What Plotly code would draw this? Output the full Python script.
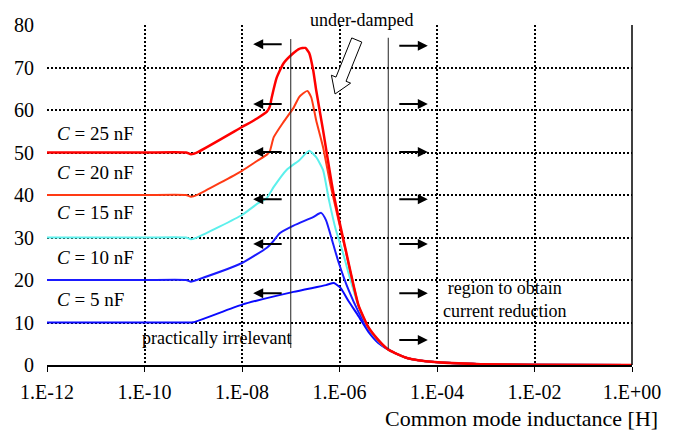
import math
import plotly.graph_objects as go

# ---------------- data ----------------
x_ticks = [1e-12, 1e-10, 1e-8, 1e-6, 1e-4, 1e-2, 1e0]
x_ticktext = ["1.E-12", "1.E-10", "1.E-08", "1.E-06", "1.E-04", "1.E-02", "1.E+00"]
y_ticks = [0, 10, 20, 30, 40, 50, 60, 70, 80]

tail_L = [1.38e-5, 2.52e-5, 8.9e-5, 7.9e-4, 9.3e-3, 1.0]
tail_v = [2.8, 1.6, 0.7, 0.2, 0.05, 0.02]

L_25 = [1e-12, 1e-10, 7.1e-10, 9.0e-10, 1.24e-9, 1.0e-8, 2.03e-8, 3.24e-8, 3.72e-8, 4.08e-8,
        5.15e-8, 7.13e-8, 1.14e-7, 1.50e-7, 1.99e-7, 2.39e-7, 2.88e-7, 3.32e-7,
        4.59e-7, 7.31e-7, 1.34e-6, 2.45e-6, 3.92e-6, 6.24e-6, 9.5e-6] + tail_L
v_25 = [50, 50, 50, 49.6, 50.1, 56.0, 58.0, 59.6, 60.8, 63.0,
        67.6, 71.0, 73.4, 74.4, 74.6, 73.4, 69.4, 64.7,
        55.3, 41.2, 27.1, 14.1, 8.9, 5.9, 3.8] + tail_v

L_20 = [1e-12, 1e-10, 7.1e-10, 9.0e-10, 1.24e-9, 1.0e-8, 2.03e-8, 3.24e-8, 3.72e-8, 4.48e-8,
        7.13e-8, 1.14e-7, 1.50e-7, 2.18e-7, 2.63e-7, 3.32e-7, 4.59e-7, 6.67e-7,
        1.34e-6, 2.45e-6, 3.92e-6, 6.24e-6, 9.5e-6] + tail_L
v_20 = [40, 40, 40, 39.6, 40.1, 45.7, 48.0, 49.5, 50.3, 53.6,
        57.2, 60.5, 63.1, 64.5, 63.0, 57.6, 51.3, 41.9,
        26.8, 14.0, 8.8, 5.8, 3.8] + tail_v

L_15 = [1e-12, 1e-10, 7.1e-10, 9.0e-10, 1.24e-9, 1.0e-8, 2.03e-8, 3.24e-8, 4.48e-8, 8.2e-8,
        1.50e-7, 2.39e-7, 3.32e-7, 4.59e-7, 6.08e-7, 8.41e-7, 1.17e-6, 1.54e-6,
        2.45e-6, 3.92e-6, 6.24e-6, 9.5e-6] + tail_L
v_15 = [30, 30, 30, 29.6, 30.1, 35.3, 37.9, 39.3, 41.9, 45.9,
        48.2, 50.4, 48.9, 45.9, 38.8, 31.8, 26.5, 21.5,
        13.8, 8.7, 5.7, 3.8] + tail_v

L_10 = [1e-12, 1e-10, 7.1e-10, 9.0e-10, 1.24e-9, 1.0e-8, 3.24e-8, 4.08e-8, 5.93e-8, 1.14e-7,
        2.88e-7, 4.19e-7, 5.28e-7, 7.31e-7, 9.68e-7, 1.54e-6, 2.45e-6, 3.92e-6,
        6.24e-6, 9.5e-6] + tail_L
v_10 = [20, 20, 20, 19.6, 20.1, 24.0, 27.6, 28.7, 31.0, 32.8,
        34.8, 35.8, 34.1, 28.7, 24.0, 17.6, 12.5, 8.3,
        5.4, 3.8] + tail_v

L_5 = [1e-12, 1e-10, 7.5e-10, 1.0e-9, 1.0e-8, 1.14e-7, 5.28e-7, 7.67e-7, 1.06e-6, 1.54e-6,
       2.45e-6, 3.92e-6, 6.24e-6, 9.5e-6] + tail_L
v_5 = [10, 10, 10, 10.05, 14.2, 17.2, 18.8, 19.3, 18.1, 15.0,
       11.5, 7.8, 5.2, 3.8] + tail_v

series = [
    ("C = 5 nF", L_5, v_5, "#0a0aff", 2),
    ("C = 10 nF", L_10, v_10, "#1a1aff", 2),
    ("C = 15 nF", L_15, v_15, "#5cf0ec", 2),
    ("C = 20 nF", L_20, v_20, "#ff3a14", 2),
    ("C = 25 nF", L_25, v_25, "#ff0000", 2.5),
]

label_text = ["<i>C</i> = 25 nF", "<i>C</i> = 20 nF", "<i>C</i> = 15 nF",
              "<i>C</i> = 10 nF", "<i>C</i> = 5 nF"]
label_y = [54.4, 45.2, 35.8, 25.4, 15.5]

left_arrow_y = [75.5, 61.4, 50.1, 39.0, 28.5, 16.9]
right_arrow_y = [75.1, 61.4, 50.1, 39.0, 28.5, 16.9, 5.9]

# ---------------- layout geometry ----------------
W, H = 673, 430
ML, MR, MT, MB = 47, 33, 25, 65
PW, PH = W - ML - MR, H - MT - MB
FONT = "Liberation Serif"


def pp(x, y):
    """pixel -> paper"""
    return (x - ML) / PW, (H - MB - y) / PH


def lp(logL):
    """log10(L) -> paper x"""
    return (logL + 12) / 12.0


fig = go.Figure()
for name, L, v, col, w in series:
    fig.add_trace(go.Scatter(x=L, y=v, mode="lines", name=name,
                             line=dict(color=col, width=w, shape="spline", smoothing=0.5),
                             showlegend=False, hoverinfo="skip"))

shapes = []
# white boxes behind texts (cover grid, below traces)
for (x0, y0, x1, y1) in [(305, -10, 432, 34), (138, 321, 296, 357), (443, 273, 580, 330)]:
    a0, b0 = pp(x0, y1)
    a1, b1 = pp(x1, y0)
    shapes.append(dict(type="rect", xref="paper", yref="paper", x0=a0, x1=a1, y0=b0, y1=b1,
                       fillcolor="white", line=dict(width=0), layer="between"))
# right solid border
shapes.append(dict(type="line", xref="paper", yref="paper", x0=1, x1=1, y0=0, y1=1,
                   line=dict(color="black", width=1.5)))
# thin solid region lines at 1e-7 and 1e-5
for lg, ytop, ybot in [(-7, 76.7, 4.0), (-5, 77.0, 3.8)]:
    shapes.append(dict(type="line", xref="paper", yref="y", x0=lp(lg), x1=lp(lg),
                       y0=ybot, y1=ytop, line=dict(color="#222", width=1)))

# hollow block arrow ("under-damped")
tail = (361, 40)
tip = (339, 94)
dx, dy = tip[0] - tail[0], tip[1] - tail[1]
ln = math.hypot(dx, dy)
ux, uy = dx / ln, dy / ln
nx, ny = -uy, ux
sh, hh, hl = 5.5, 10.5, 16
bx, by = tip[0] - hl * ux, tip[1] - hl * uy
pts = [(tail[0] + sh * nx, tail[1] + sh * ny), (bx + sh * nx, by + sh * ny),
       (bx + hh * nx, by + hh * ny), tip, (bx - hh * nx, by - hh * ny),
       (bx - sh * nx, by - sh * ny), (tail[0] - sh * nx, tail[1] - sh * ny)]
path = "M " + " L ".join("%.5f,%.5f" % pp(*p) for p in pts) + " Z"
shapes.append(dict(type="path", xref="paper", yref="paper", path=path,
                   fillcolor="white", line=dict(color="black", width=1)))

annotations = []
for t, y in zip(label_text, label_y):
    annotations.append(dict(text=t, xref="paper", yref="y", x=pp(55, 0)[0], y=y,
                            xanchor="left", yanchor="middle", showarrow=False,
                            font=dict(family=FONT, size=19, color="black")))
for y in left_arrow_y:
    annotations.append(dict(text="", xref="paper", yref="y", x=pp(256, 0)[0], y=y,
                            ax=30, ay=0, showarrow=True, arrowhead=2, arrowsize=1,
                            arrowwidth=2, arrowcolor="black"))
for y in right_arrow_y:
    annotations.append(dict(text="", xref="paper", yref="y", x=pp(433, 0)[0], y=y,
                            ax=-30, ay=0, showarrow=True, arrowhead=2, arrowsize=1,
                            arrowwidth=2, arrowcolor="black"))

ux_, uy_ = pp(366, 20)
annotations.append(dict(text="under-damped", xref="paper", yref="paper", x=ux_, y=uy_,
                        xanchor="center", yanchor="middle", showarrow=False,
                        font=dict(family=FONT, size=18, color="black")))
px_, py_ = pp(219, 338)
annotations.append(dict(text="practically irrelevant", xref="paper", yref="paper", x=px_, y=py_,
                        xanchor="center", yanchor="middle", showarrow=False,
                        font=dict(family=FONT, size=18, color="black")))
rx_, ry_ = pp(511, 299)
annotations.append(dict(text="region to obtain<br>current reduction", xref="paper", yref="paper",
                        x=rx_, y=ry_, xanchor="center", yanchor="middle", showarrow=False,
                        align="center",
                        font=dict(family=FONT, size=18, color="black")))
tx_, ty_ = pp(668, 419)
annotations.append(dict(text="Common mode inductance [H]", xref="paper", yref="paper",
                        x=tx_, y=ty_, xanchor="right", yanchor="middle", showarrow=False,
                        font=dict(family=FONT, size=22, color="black")))

fig.update_layout(
    width=W, height=H,
    margin=dict(l=ML, r=MR, t=MT, b=MB),
    paper_bgcolor="white", plot_bgcolor="white",
    shapes=shapes, annotations=annotations,
    font=dict(family=FONT, size=20, color="black"),
    xaxis=dict(type="log", range=[-12, 0], tickvals=x_ticks, ticktext=x_ticktext,
               showgrid=True, gridcolor="black", gridwidth=1.5, griddash="2px,2px",
               showline=True, linecolor="black", linewidth=1.5,
               ticks="outside", ticklen=5, tickcolor="black", tickwidth=1,
               ticklabelstandoff=3, zeroline=False,
               tickfont=dict(family=FONT, size=20, color="black")),
    yaxis=dict(range=[0, 80], tickvals=y_ticks,
               showgrid=True, gridcolor="black", gridwidth=1.5, griddash="2px,2px",
               showline=False, zeroline=False, ticks="",
               ticklabelstandoff=12,
               tickfont=dict(family=FONT, size=20, color="black")),
)

fig.write_html("out.html")
